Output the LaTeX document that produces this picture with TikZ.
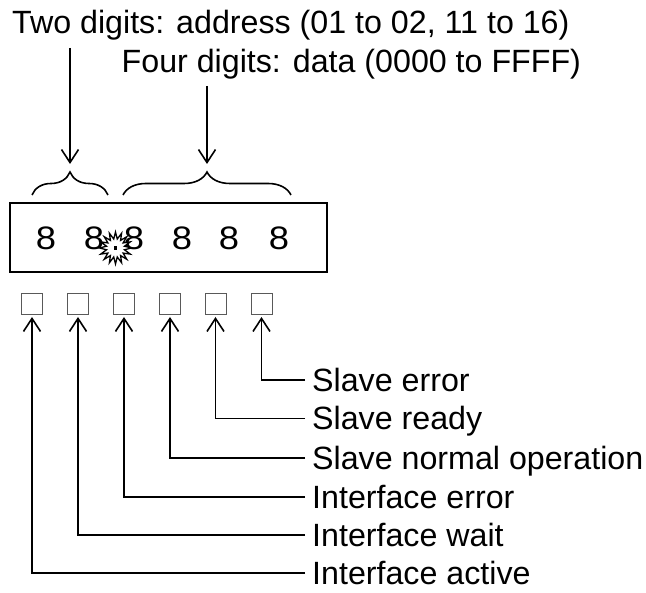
\documentclass[tikz,border=0pt]{standalone}
\usepackage{fontspec}
\setmainfont{Liberation Sans}
\newfontfamily\digitfont[FakeStretch=1.12]{Liberation Sans}
\usetikzlibrary{arrows.meta,decorations.pathreplacing,shapes.geometric}
\begin{document}
\begin{tikzpicture}[x=1pt,y=-1pt,
  txt/.style={inner sep=0pt, font=\fontsize{32.2pt}{38pt}\selectfont},
  lab/.style={txt, anchor=west, text height=23pt, text depth=0pt},
  digit/.style={inner sep=0pt, anchor=base, font=\digitfont\fontsize{32.5pt}{38pt}\selectfont},
  led/.style={draw=black!65, line width=1pt, minimum size=21pt, inner sep=0pt},
  conn/.style={line width=1.6pt, -{Straight Barb[length=13pt,width=17pt]}},
  bracestyle/.style={line width=1.6pt, decorate, decoration={brace, amplitude=23pt}},
]
\useasboundingbox (0,0) rectangle (646,593);

% top texts
\node[txt, anchor=base west] (addr) at (12,33.5) {Two digits: address (01 to 02, 11 to 16)};
\node[txt, anchor=base west] (data) at (121.5,72.5) {Four digits: data (0000 to FFFF)};

% braces
\draw[bracestyle] (32,195) -- (108,195);
\draw[bracestyle] (123,195) -- (291,195);

% arrows to braces
\coordinate (addrS) at (70,48);
\coordinate (addrT) at (70,164);
\coordinate (dataS) at (207,86);
\coordinate (dataT) at (207,164);
\draw[conn] (addrS) -- (addrT);
\draw[conn] (dataS) -- (dataT);

% display
\node[draw, line width=1.8pt, minimum width=317pt, minimum height=69pt, inner sep=0pt] (disp) at (168.5,237.5) {};
\node[digit] (d1) at (46,249.5) {8};
\node[digit] (d2) at (94,249.5) {8};
\node[digit] (d3) at (134,249.5) {8};
\node[digit] (d4) at (182,249.5) {8};
\node[digit] (d5) at (229,249.5) {8};
\node[digit] (d6) at (279,249.5) {8};
\node[star, star points=16, star point ratio=1.75, draw, fill=white, line width=1.3pt,
      minimum size=32pt, inner sep=0pt] (burst) at (115.5,248) {};
\fill ([xshift=-1.7pt,yshift=-1.7pt]burst.center) rectangle ([xshift=1.7pt,yshift=1.7pt]burst.center);

% LEDs
\node[led] (led1) at (32,304) {};
\node[led] (led2) at (78,304) {};
\node[led] (led3) at (124,304) {};
\node[led] (led4) at (170,304) {};
\node[led] (led5) at (215.5,304) {};
\node[led] (led6) at (261.5,304) {};

% labels
\node[lab] (l6) at (312,380) {Slave error};
\node[lab] (l5) at (312,418.5) {Slave ready};
\node[lab] (l4) at (312,458) {Slave normal operation};
\node[lab] (l3) at (312,497) {Interface error};
\node[lab] (l2) at (312,535) {Interface wait};
\node[lab] (l1) at (312,573) {Interface active};

\foreach \i in {1,...,6}{
  \draw[conn, shorten >=2pt] ([xshift=-7pt]l\i.west) -| (led\i.south);
}
\end{tikzpicture}
\end{document}
